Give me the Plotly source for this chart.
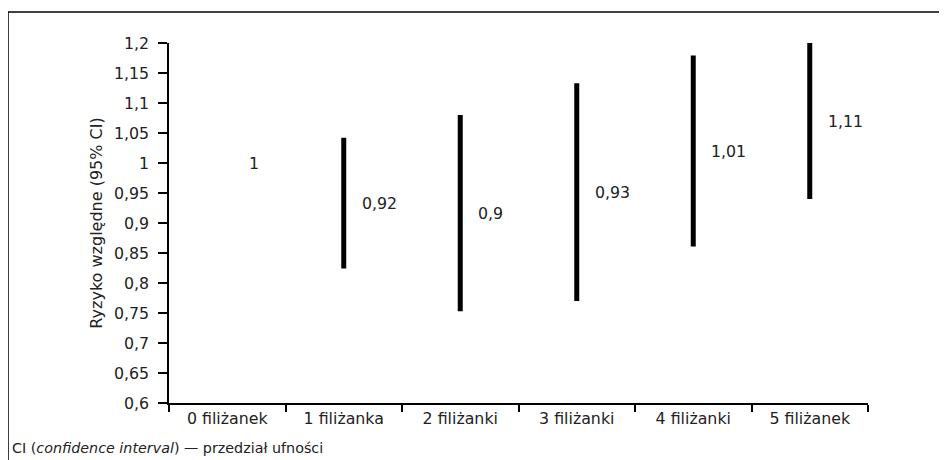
import plotly.graph_objects as go

categories = ["0 filiżanek", "1 filiżanka", "2 filiżanki", "3 filiżanki", "4 filiżanki", "5 filiżanek"]
rr = [1.00, 0.92, 0.90, 0.93, 1.01, 1.11]
rr_labels = ["1", "0,92", "0,9", "0,93", "1,01", "1,11"]
ci_lower = [None, 0.824, 0.753, 0.770, 0.861, 0.940]
ci_upper = [None, 1.042, 1.080, 1.133, 1.179, 1.200]
y_ticks = [0.6, 0.65, 0.7, 0.75, 0.8, 0.85, 0.9, 0.95, 1.0, 1.05, 1.1, 1.15, 1.2]
y_tick_labels = ["0,6", "0,65", "0,7", "0,75", "0,8", "0,85", "0,9", "0,95", "1", "1,05", "1,1", "1,15", "1,2"]

FONT = "DejaVu Sans"
TXT = "#222222"
FS = 15.8

xs, ys = [], []
for c, lo, hi in zip(categories, ci_lower, ci_upper):
    if lo is None:
        continue
    xs += [c, c, None]
    ys += [lo, hi, None]

fig = go.Figure()
fig.add_trace(go.Scatter(x=xs, y=ys, mode="lines",
                         line=dict(color="black", width=5),
                         hoverinfo="skip", showlegend=False))
fig.add_trace(go.Scatter(x=categories, y=rr, mode="markers",
                         marker=dict(opacity=0), showlegend=False, hoverinfo="skip"))

for c, v, lo, hi, lab in zip(categories, rr, ci_lower, ci_upper, rr_labels):
    ypos = v if lo is None else (lo + hi) / 2
    fig.add_annotation(x=c, y=ypos, text=lab, showarrow=False,
                       xanchor="left", yanchor="middle",
                       xshift=16 if lo is not None else 20,
                       font=dict(family=FONT, size=FS, color=TXT))

# outer frame (top and left edges)
fig.add_shape(type="line", xref="paper", yref="paper",
              x0=-0.2303, x1=1.2, y0=1.0861, y1=1.0861,
              line=dict(color="black", width=1.5))
fig.add_shape(type="line", xref="paper", yref="paper",
              x0=-0.2303, x1=-0.2303, y0=1.0861, y1=-0.2,
              line=dict(color="black", width=1.5))

fig.add_annotation(xref="paper", yref="paper", x=-0.2275, y=-0.125,
                   xanchor="left", yanchor="middle", showarrow=False,
                   text="CI (<i>confidence interval</i>) — przedział ufności",
                   font=dict(family=FONT, size=14.3, color=TXT))

fig.update_layout(
    width=939, height=452,
    margin=dict(l=161, r=79, t=35, b=57),
    paper_bgcolor="white", plot_bgcolor="white",
    font=dict(family=FONT, size=FS, color=TXT),
)
fig.update_xaxes(type="category", categoryorder="array", categoryarray=categories,
                 range=[-0.5, 5.5], showgrid=False, zeroline=False,
                 showline=True, linecolor="black", linewidth=1.5,
                 ticks="outside", tickson="boundaries", ticklen=7,
                 tickcolor="black", tickwidth=1.5,
                 tickfont=dict(family=FONT, size=FS, color=TXT))
fig.update_yaxes(range=[0.6, 1.2], tickvals=y_ticks, ticktext=y_tick_labels,
                 showgrid=False, zeroline=False,
                 showline=True, linecolor="black", linewidth=1.5,
                 ticks="outside", ticklen=9, tickcolor="black", tickwidth=1.5,
                 ticklabelstandoff=6,
                 tickfont=dict(family=FONT, size=FS, color=TXT),
                 title=dict(text="Ryzyko względne (95% CI)", standoff=7,
                            font=dict(family=FONT, size=16, color=TXT)))

fig.write_html("out.html")
